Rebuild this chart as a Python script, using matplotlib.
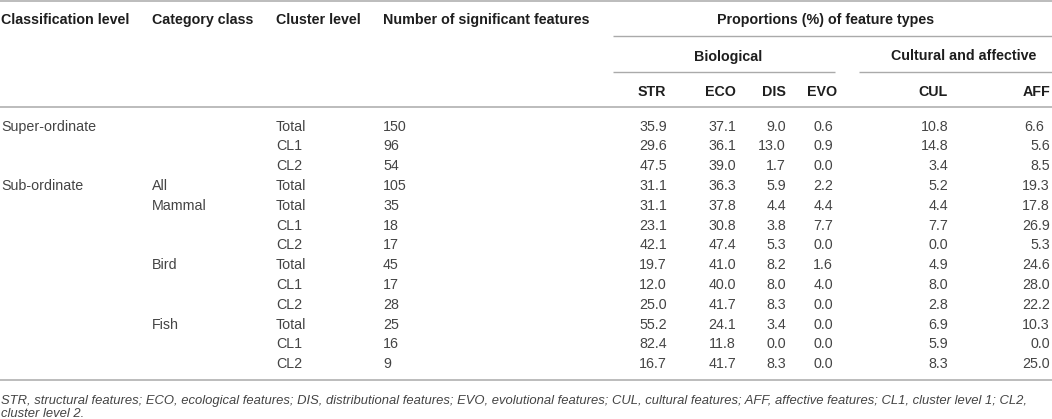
import matplotlib
matplotlib.use("Agg")
import matplotlib.pyplot as plt

# %%
# Table content
class_level = ["Super-ordinate", "", "", "Sub-ordinate", "", "", "", "", "", "", "", "", ""]
category = ["", "", "", "All", "Mammal", "", "", "Bird", "", "", "Fish", "", ""]
cluster = ["Total", "CL1", "CL2", "Total", "Total", "CL1", "CL2",
           "Total", "CL1", "CL2", "Total", "CL1", "CL2"]
n_features = [150, 96, 54, 105, 35, 18, 17, 45, 17, 28, 25, 16, 9]
str_pct = [35.9, 29.6, 47.5, 31.1, 31.1, 23.1, 42.1, 19.7, 12.0, 25.0, 55.2, 82.4, 16.7]
eco_pct = [37.1, 36.1, 39.0, 36.3, 37.8, 30.8, 47.4, 41.0, 40.0, 41.7, 24.1, 11.8, 41.7]
dis_pct = [9.0, 13.0, 1.7, 5.9, 4.4, 3.8, 5.3, 8.2, 8.0, 8.3, 3.4, 0.0, 8.3]
evo_pct = [0.6, 0.9, 0.0, 2.2, 4.4, 7.7, 0.0, 1.6, 4.0, 0.0, 0.0, 0.0, 0.0]
cul_pct = [10.8, 14.8, 3.4, 5.2, 4.4, 7.7, 0.0, 4.9, 8.0, 2.8, 6.9, 5.9, 8.3]
aff_pct = [6.6, 5.6, 8.5, 19.3, 17.8, 26.9, 5.3, 24.6, 28.0, 22.2, 10.3, 0.0, 25.0]

left_headers = ["Classification level", "Category class", "Cluster level",
                "Number of significant features"]
type_headers = ["STR", "ECO", "DIS", "EVO", "CUL", "AFF"]
footnote_lines = [
    "STR, structural features; ECO, ecological features; DIS, distributional "
    "features; EVO, evolutional features; CUL, cultural features; AFF, affective "
    "features; CL1, cluster level 1; CL2,",
    "cluster level 2.",
]

# %%
# Layout (pixel coordinates of the 1052x419 canvas)
W, H = 1052, 419
left_x = [1, 152, 276, 383]
num_right = [667, 736, 786, 833, 948, 1050]
head_right = [666, 736, 786, 837, 948, 1050]
row0, row_step = 130.5, 19.8

plt.rcParams["font.family"] = ["Liberation Sans", "DejaVu Sans"]
fs = 10.3
body = "#444444"
bold = "#1e1e1e"
rule = "#aaaaaa"

fig = plt.figure(figsize=(W / 100, H / 100), dpi=100)
ax = fig.add_axes([0, 0, 1, 1])
ax.set_xlim(0, W)
ax.set_ylim(H, 0)
ax.axis("off")

# rules
ax.hlines([1.2, 107, 380], 0, W, color=rule, lw=1.1)
ax.hlines(36.5, 613, W, color=rule, lw=1.0)
ax.hlines(72, 613, 835, color=rule, lw=1.0)
ax.hlines(72, 859, W, color=rule, lw=1.0)

# header
for x, label in zip(left_x, left_headers):
    ax.text(x, 24, label, ha="left", va="baseline", fontsize=fs,
            fontweight="bold", color=bold)
ax.text(826, 24, "Proportions (%) of feature types", ha="center", va="baseline",
        fontsize=fs, fontweight="bold", color=bold)
ax.text(728, 60.5, "Biological", ha="center", va="baseline", fontsize=fs,
        fontweight="bold", color=bold)
ax.text(964, 60.5, "Cultural and affective", ha="center", va="baseline",
        fontsize=fs, fontweight="bold", color=bold)
for x, label in zip(head_right, type_headers):
    ax.text(x, 96, label, ha="right", va="baseline", fontsize=fs,
            fontweight="bold", color=bold)

# body
text_cols = [class_level, category, cluster, [str(n) for n in n_features]]
pct_cols = [str_pct, eco_pct, dis_pct, evo_pct, cul_pct, aff_pct]
for i in range(len(cluster)):
    y = row0 + i * row_step
    for x, col in zip(left_x, text_cols):
        ax.text(x, y, col[i], ha="left", va="baseline", fontsize=fs, color=body)
    for j, (x, col) in enumerate(zip(num_right, pct_cols)):
        if j == 5 and i == 0:
            # first AFF value sits left-aligned in the source table
            ax.text(1024, y, f"{col[i]:.1f}", ha="left", va="baseline",
                    fontsize=fs, color=body)
        else:
            ax.text(x, y, f"{col[i]:.1f}", ha="right", va="baseline",
                    fontsize=fs, color=body)

# footnote
for k, line in enumerate(footnote_lines):
    ax.text(1, 404 + k * 13, line, ha="left", va="baseline", fontsize=9.4,
            style="italic", color=body)

fig.savefig("out.png", dpi=100)
